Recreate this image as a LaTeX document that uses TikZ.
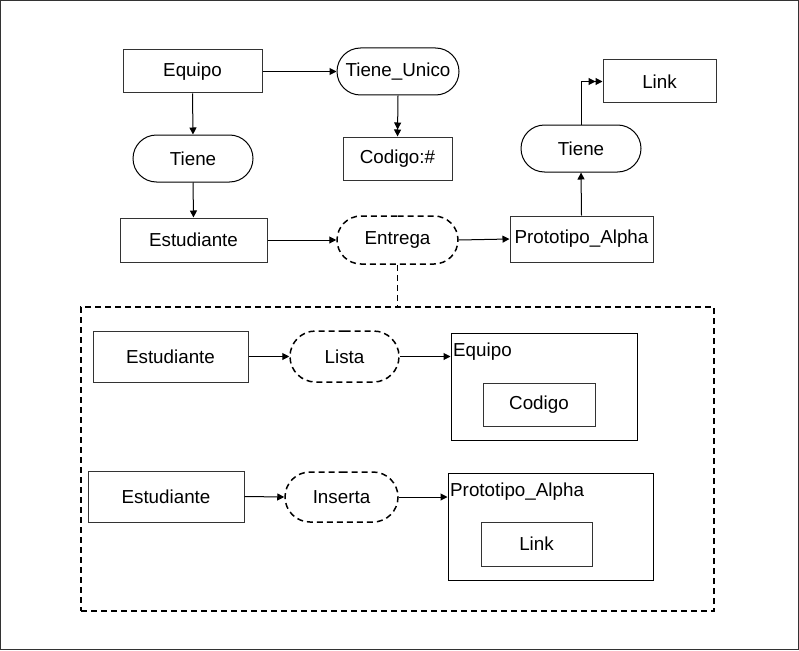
\documentclass[tikz,border=0pt]{standalone}
\usepackage{fontspec}
\setmainfont{Liberation Sans}
\usetikzlibrary{arrows.meta,shapes.misc}
\begin{document}
\begin{tikzpicture}[x=1pt,y=-1pt,
  every node/.style={font=\fontsize{18.8}{22}\selectfont, inner sep=0pt},
  box/.style={draw=black!80, line width=1pt, rectangle},
  pill/.style={draw=black, line width=1pt, rounded rectangle},
  dpill/.style={draw=black, line width=1.5pt, rounded rectangle, dash pattern=on 6pt off 4pt},
  arr/.style={line width=1pt, -{Triangle[length=7pt,width=7pt]}},
  darr/.style={line width=1pt, -{Triangle[length=7pt,width=7pt]Triangle[length=7pt,width=7pt]}},
  dline/.style={line width=1.5pt, dash pattern=on 6pt off 4pt}]
\useasboundingbox (0,0) rectangle (799,650);
\draw[line width=1pt, black!80] (0.5,0.5) rectangle (798.5,649.5);

% top part
\node[box, minimum width=139pt, minimum height=43pt] (eq) at (192.5,71.5) {Equipo};
\node[pill, minimum width=122pt, minimum height=47pt] (tu) at (398,71.5) {Tiene\_Unico};
\node[pill, minimum width=120pt, minimum height=47pt] (t1) at (193,158.5) {Tiene};
\node[box, minimum width=109pt, minimum height=43pt] (cod) at (397.5,158.5) {Codigo:\#};
\node[box, minimum width=147pt, minimum height=44pt] (est) at (193.5,240) {Estudiante};
\node[dpill, minimum width=121pt, minimum height=48pt] (ent) at (397.5,240) {Entrega};
\node[box, minimum width=143pt, minimum height=46pt] (pa) at (581.5,239) {Prototipo\_Alpha};
\node[pill, minimum width=120pt, minimum height=47pt] (t2) at (581,148.5) {Tiene};
\node[box, minimum width=113pt, minimum height=43pt] (lk) at (659.5,81.5) {Link};

\draw[arr] (eq.east) -- (tu.west);
\draw[arr] (eq.south) -- (t1.north);
\draw[darr] (tu.south) -- (cod.north);
\draw[arr] (t1.south) -- (est.north);
\draw[arr] (est.east) -- (ent.west);
\draw[arr] (ent.east) -- (pa.west);
\draw[arr] (pa.north) -- (t2.south);
\draw[darr] (t2.north) |- (lk.west);

% dashed group
\node[dline, draw, rectangle, minimum width=633pt, minimum height=304pt] (grp) at (397.5,459) {};
\draw[dline] (ent.south) -- (grp.north -| ent.south);

% row 1
\node[box, minimum width=155pt, minimum height=51pt] (e2) at (170.5,356.5) {Estudiante};
\node[dpill, minimum width=109pt, minimum height=51pt] (li) at (344.5,356.5) {Lista};
\node[box, draw=black, minimum width=186pt, minimum height=107pt] (ceq) at (544,386.5) {};
\node[anchor=west] (ceql) at (453,352) {Equipo};
\node[box, minimum width=112pt, minimum height=43pt] (cc) at (539,404.5) {Codigo};
\draw[arr] (e2.east) -- (li.west);
\draw[arr] (li.east) -- (li.east -| ceq.west);

% row 2
\node[box, minimum width=156pt, minimum height=51pt] (e3) at (166,496.5) {Estudiante};
\node[dpill, minimum width=113pt, minimum height=50pt] (ins) at (341.5,497) {Inserta};
\node[box, draw=black, minimum width=205pt, minimum height=107pt] (cpa) at (550.5,526.5) {};
\node[anchor=west] (cpal) at (450,492) {Prototipo\_Alpha};
\node[box, minimum width=111pt, minimum height=44pt] (lk2) at (536.5,544) {Link};
\draw[arr] (e3.east) -- (ins.west);
\draw[arr] (ins.east) -- (ins.east -| cpa.west);
\end{tikzpicture}
\end{document}
